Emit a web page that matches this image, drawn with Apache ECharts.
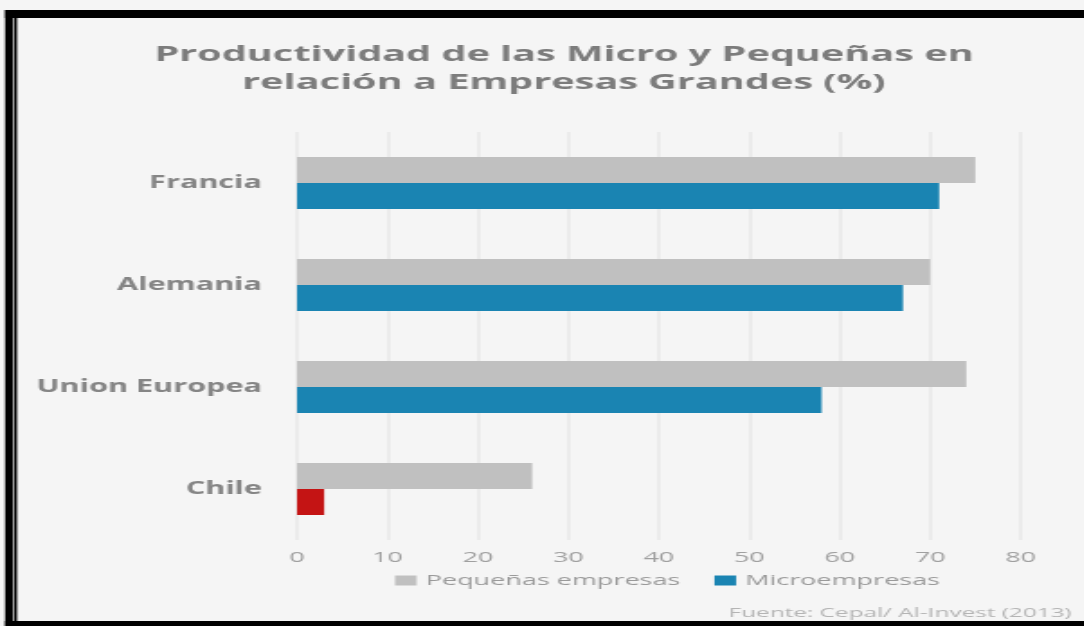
<!DOCTYPE html>
<html><head><meta charset="utf-8">
<script src="https://cdn.jsdelivr.net/npm/echarts@6/dist/echarts.min.js"></script>
<style>html,body{margin:0;padding:0;background:#fff;overflow:hidden;}
#wrap{width:1084px;height:626px;overflow:hidden;position:relative;}
#c{height:626px;transform-origin:0 0;position:absolute;left:0;top:0;}</style>
</head><body><div id="wrap"><div id="c"></div></div>
<script>
const categories = ['Francia', 'Alemania', 'Union Europea', 'Chile'];
const pequenas = [75, 70, 74, 26];
const micro = [71, 67, 58, 3];
const xTicks = [0, 10, 20, 30, 40, 50, 60, 70, 80];
const seriesNames = ['Pequeñas empresas', 'Microempresas'];

// the reference is a horizontally stretched screenshot: draw narrow, stretch with CSS
const S = 1.8;
const W = 1084 / S;
const el = document.getElementById('c');
el.style.width = W + 'px';
el.style.transform = 'scaleX(' + S + ')';
const px = x => x / S;

const chart = echarts.init(el);
const microData = micro.map((v, i) => categories[i] === 'Chile'
  ? { value: v, itemStyle: { color: '#c41414' } } : v);

chart.setOption({
  backgroundColor: '#f5f5f5',
  animation: false,
  title: {
    text: 'Productividad de las Micro y Pequeñas en\nrelación a Empresas Grandes (%)',
    left: px(555), top: 36, textAlign: 'center',
    textStyle: { fontFamily: 'Open Sans', fontWeight: 'bold', fontSize: 22, color: '#7c7c7c', lineHeight: 28 }
  },
  legend: {
    data: seriesNames, left: px(395), top: 573, padding: 0, itemWidth: 12, itemHeight: 10, itemGap: 19,
    icon: 'rect',
    textStyle: { fontFamily: 'Open Sans', fontSize: 15, color: '#9a9a9a' }
  },
  graphic: [
    { type: 'rect', shape: { x: px(5), y: 10, width: W, height: 8 }, style: { fill: '#000' } },
    { type: 'rect', shape: { x: px(5), y: 10, width: px(8), height: 616 }, style: { fill: '#000' } },
    { type: 'rect', shape: { x: px(14), y: 18, width: px(3), height: 608 }, style: { fill: '#000' } },
    { type: 'rect', shape: { x: px(5), y: 621, width: W, height: 5 }, style: { fill: '#000' } },
    { type: 'text', right: px(12), top: 606, style: { text: 'Fuente: Cepal/ Al-Invest (2013)', fontFamily: 'Open Sans', fontSize: 13.5, fill: '#b4b4b4' } }
  ],
  grid: { left: px(297), right: px(1084 - 1021), top: 132, bottom: 86 },
  xAxis: {
    type: 'value', min: 0, max: 80, interval: 10,
    axisLine: { show: false }, axisTick: { show: false },
    splitLine: { lineStyle: { color: '#ebebeb', width: 2 } },
    axisLabel: { fontFamily: 'Open Sans', fontSize: 15, color: '#a0a0a0', margin: 10,
      formatter: v => xTicks.includes(v) ? String(v) : '' }
  },
  yAxis: {
    type: 'category', data: categories, inverse: true,
    axisLine: { show: false }, axisTick: { show: false },
    axisLabel: { fontFamily: 'Open Sans', fontWeight: 'bold', fontSize: 17, color: '#858585', margin: px(35) }
  },
  series: [
    { name: seriesNames[0], type: 'bar', data: pequenas, barWidth: 26, barGap: '0%',
      itemStyle: { color: '#c0c0c0' } },
    { name: seriesNames[1], type: 'bar', data: microData, barWidth: 26, barGap: '0%',
      itemStyle: { color: '#1a84b2' } }
  ]
});
</script></body></html>
